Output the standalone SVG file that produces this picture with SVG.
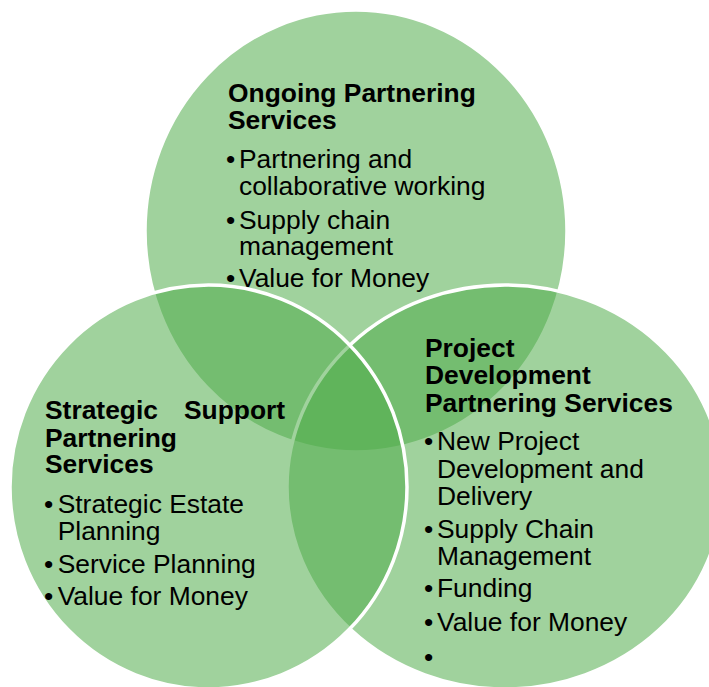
<svg xmlns="http://www.w3.org/2000/svg" width="709" height="687" viewBox="0 0 709 687">
<style>
.c{fill:rgb(80,171,74);fill-opacity:0.54;stroke:#ffffff;stroke-width:3.5}
text{font-family:"Liberation Sans",Arial,sans-serif;font-size:26.4px;fill:#000}
.h{font-weight:bold}
</style>
<rect width="709" height="687" fill="#ffffff"/>
<g id="node-ongoing">
<ellipse class="c" cx="356" cy="231" rx="211" ry="221"/>
<text class="h" x="228" y="102">Ongoing Partnering</text>
<text class="h" x="228" y="129">Services</text>
<text x="226" y="168">•</text><text x="239" y="168">Partnering and</text>
<text x="239" y="195">collaborative working</text>
<text x="226" y="228.5">•</text><text x="239" y="228.5">Supply chain</text>
<text x="239" y="255">management</text>
<text x="226" y="287">•</text><text x="239" y="287">Value for Money</text>
</g>
<g id="node-project">
<ellipse class="c" cx="505" cy="487" rx="218" ry="202"/>
<text class="h" x="425" y="357.3">Project</text>
<text class="h" x="425" y="384.3">Development</text>
<text class="h" x="425" y="411.7">Partnering Services</text>
<text x="424" y="450">•</text><text x="437" y="450">New Project</text>
<text x="437" y="478.3">Development and</text>
<text x="437" y="505">Delivery</text>
<text x="424" y="537.7">•</text><text x="437" y="537.7">Supply Chain</text>
<text x="437" y="565">Management</text>
<text x="424" y="596.7">•</text><text x="437" y="596.7">Funding</text>
<text x="424" y="631">•</text><text x="437" y="631">Value for Money</text>
<text x="424" y="666">•</text>
</g>
<g id="node-strategic">
<ellipse class="c" cx="208.5" cy="487" rx="198.5" ry="202"/>
<text class="h" x="45" y="419.3">Strategic</text>
<text class="h" x="184" y="419.3">Support</text>
<text class="h" x="45" y="446.7">Partnering</text>
<text class="h" x="45" y="473.3">Services</text>
<text x="44" y="513.3">•</text><text x="57.7" y="513.3">Strategic Estate</text>
<text x="57.7" y="540">Planning</text>
<text x="44" y="573.3">•</text><text x="57.7" y="573.3">Service Planning</text>
<text x="44" y="605">•</text><text x="57.7" y="605">Value for Money</text>
</g>
</svg>
